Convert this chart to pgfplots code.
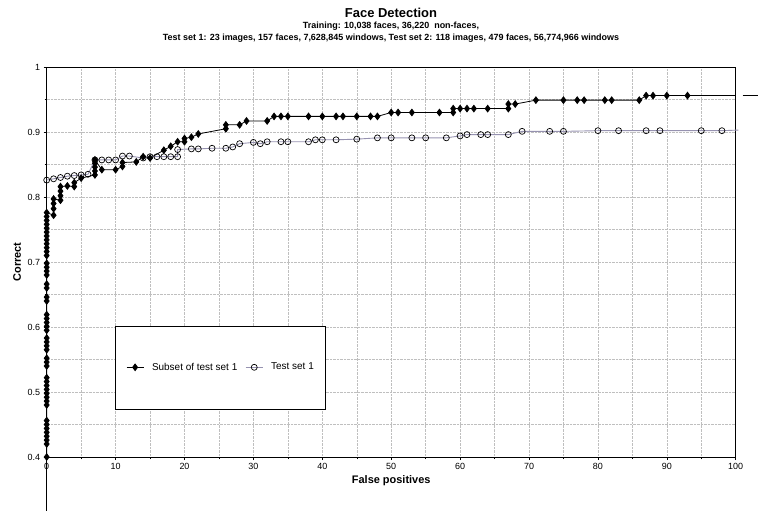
\documentclass[border=0pt]{standalone}
\usepackage{pgfplots}
\pgfplotsset{compat=1.18}
\usepackage{fontspec}
\setmainfont{Liberation Sans}
\definecolor{grayline}{RGB}{150,146,176}
\begin{document}
\begin{tikzpicture}
\useasboundingbox (-46.7bp,-54bp) rectangle (711.3bp,457bp);
\begin{axis}[
  scale only axis, width=689bp, height=390bp,
  xmin=0, xmax=100, ymin=0.4, ymax=1,
  xtick={0,10,...,100}, minor xtick={5,15,...,95},
  ytick={0.4,0.5,...,1.01}, minor ytick={0.45,0.55,...,0.96},
  grid=both,
  major grid style={densely dotted, gray!50, line width=0.5pt},
  minor grid style={densely dotted, gray!50, line width=0.5pt},
  axis line style={black, line width=0.8pt},
  tick style={black, line width=0.5pt},
  major tick length=3bp, minor tick length=2bp,
  tick align=outside,
  xtick pos=bottom, ytick pos=left,
  /pgf/number format/assume math mode=true,
  yticklabel style={/pgf/number format/.cd, fixed, precision=2},
  ticklabel style={font=\fontsize{9}{10}\selectfont},
  xlabel={\textbf{False positives}},
  ylabel={\textbf{Correct}},
  xlabel style={font=\fontsize{11}{13}\selectfont, yshift=1bp},
  ylabel style={font=\fontsize{11}{13}\selectfont, yshift=0bp},
  clip=false,
  legend style={at={(axis cs:25.3,0.538)}, anchor=center, draw=none, fill=none,
    font=\fontsize{10}{12}\selectfont, column sep=6bp},
  legend columns=2,
]
\draw[black, line width=0.7pt, fill=white] (axis cs:10,0.474) rectangle (axis cs:40.5,0.6015);
\draw[black, line width=0.8pt] (axis cs:0,0.4) -- (axis cs:0,0.317);
\addplot[black, line width=0.8pt, mark=diamond*, mark size=3.3bp, mark options={black}] coordinates {
(0,0.400)(0,0.420)(0,0.426)(0,0.432)(0,0.438)(0,0.444)(0,0.450)(0,0.456)(0,0.480)(0,0.486)
(0,0.492)(0,0.498)(0,0.504)(0,0.510)(0,0.516)(0,0.522)(0,0.540)(0,0.546)(0,0.552)(0,0.565)
(0,0.571)(0,0.577)(0,0.583)(0,0.595)(0,0.601)(0,0.607)(0,0.613)(0,0.619)(0,0.640)(0,0.646)
(0,0.660)(0,0.666)(0,0.680)(0,0.686)(0,0.692)(0,0.698)(0,0.710)(0,0.716)(0,0.722)(0,0.728)
(0,0.734)(0,0.740)(0,0.746)(0,0.752)(0,0.758)(0,0.764)(0,0.770)(0,0.776)
(1,0.772)(1,0.782)(1,0.790)(1,0.797)
(2,0.795)(2,0.802)(2,0.809)(2,0.816)(3,0.817)(4,0.816)(4,0.822)(5,0.829)
(7,0.834)(7,0.840)(7,0.846)(7,0.852)(7,0.857)(8,0.842)(10,0.842)(11,0.847)(11,0.853)
(13,0.854)(14,0.862)(15,0.860)(17,0.872)(18,0.878)(19,0.885)(20,0.885)(20,0.890)(21,0.892)
(22,0.897)(26,0.905)(26,0.911)(28,0.911)(29,0.917)(32,0.917)(33,0.924)(34,0.924)(35,0.924)
(38,0.924)(40,0.924)(42,0.924)(43,0.924)(45,0.924)(47,0.924)(48,0.924)(50,0.930)(51,0.930)
(53,0.930)(57,0.930)(59,0.930)(59,0.936)(60,0.936)(61,0.936)(62,0.936)(64,0.936)(67,0.936)
(67,0.943)(68,0.943)(71,0.949)(75,0.949)(77,0.949)(78,0.949)(81,0.949)(82,0.949)(86,0.949)
(87,0.956)(88,0.956)(90,0.956)(93,0.956)
};
\addlegendentry{Subset of test set 1}
\addplot[grayline, line width=0.9pt, mark=o, mark size=3bp, mark options={black, fill=white, line width=0.7pt}] coordinates {
(0,0.826)(1,0.828)(2,0.830)(3,0.832)(4,0.833)(5,0.834)(6,0.835)(7,0.857)(8,0.857)(9,0.857)(10,0.857)
(11,0.863)(12,0.863)(14,0.860)(15,0.862)(16,0.862)(17,0.862)(18,0.862)(19,0.862)(19,0.873)
(21,0.874)(22,0.874)(24,0.875)(26,0.875)(27,0.877)(28,0.882)(30,0.884)(31,0.882)(32,0.885)
(34,0.885)(35,0.885)(38,0.885)(39,0.888)(40,0.888)(42,0.888)(45,0.889)(48,0.891)(50,0.891)
(53,0.891)(55,0.891)(58,0.891)(60,0.894)(61,0.896)(63,0.896)(64,0.896)(67,0.896)(69,0.901)
(73,0.901)(75,0.901)(80,0.902)(83,0.902)(87,0.902)(89,0.902)(95,0.902)(98,0.902)
};
\addlegendentry{Test set 1}
\addplot[black, line width=0.8pt, forget plot] coordinates {(93,0.956)(100,0.956)};
\addplot[black, line width=0.8pt, forget plot] coordinates {(101.0,0.956)(103.2,0.956)};
\addplot[grayline, line width=0.9pt, forget plot] coordinates {(98,0.902)(100.4,0.903)};
\end{axis}
\node[font=\bfseries\fontsize{13}{15}\selectfont] at (344.3bp,444.5bp) {Face Detection};
\node[font=\bfseries\fontsize{9}{10}\selectfont] at (344.3bp,431bp) {Training: 10,038 faces, 36,220~ non-faces,};
\node[font=\bfseries\fontsize{9}{10}\selectfont] at (344.3bp,419bp) {Test set 1: 23 images, 157 faces, 7,628,845 windows, Test set 2: 118 images, 479 faces, 56,774,966 windows};
\end{tikzpicture}
\end{document}
